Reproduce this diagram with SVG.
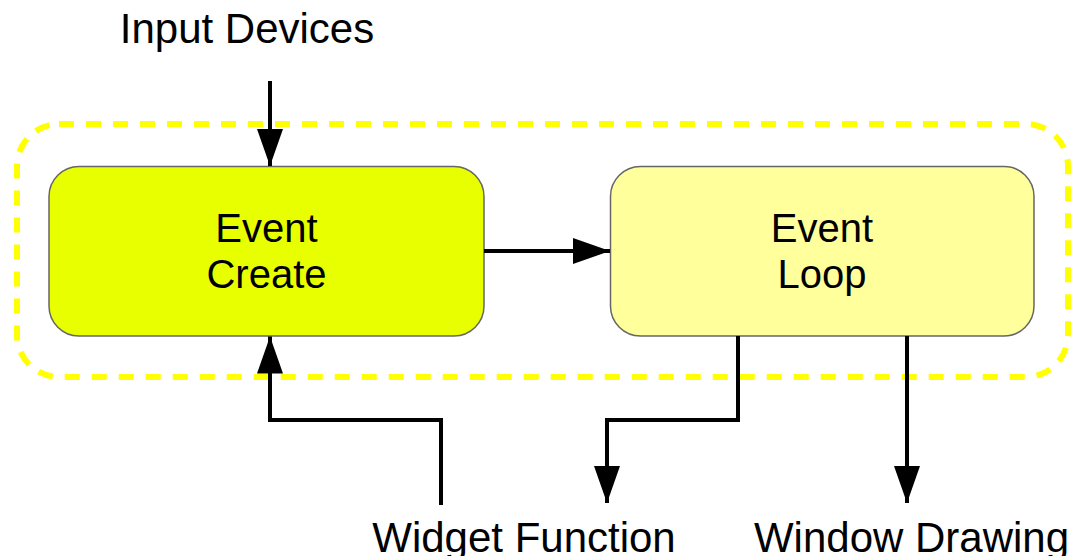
<svg xmlns="http://www.w3.org/2000/svg" width="1072" height="556" viewBox="0 0 1072 556">
  <style>
    .label { font-family: "Liberation Sans", Arial, sans-serif; font-size: 42px; fill: #000; text-anchor: middle; }
    .node-text { font-family: "Liberation Sans", Arial, sans-serif; font-size: 40px; fill: #000; text-anchor: middle; }
    .box { stroke: #666; stroke-width: 1.5; }
    .wire { fill: none; stroke: #000; stroke-width: 4; marker-end: url(#head); }
  </style>
  <defs>
    <marker id="head" markerUnits="userSpaceOnUse" markerWidth="38" markerHeight="26" refX="37" refY="13" orient="auto">
      <polygon points="0,0 37,13 0,26" fill="#000"/>
    </marker>
  </defs>
  <rect width="1072" height="556" fill="#fff"/>

  <!-- dashed system boundary -->
  <rect id="boundary" x="17" y="124" width="1051" height="253" rx="42" ry="42" fill="none" stroke="#ffff00" stroke-width="6" stroke-dasharray="15 12"/>

  <g id="event-create">
    <rect class="box" x="49" y="166.5" width="435" height="169.5" rx="30" ry="30" fill="#e8ff00"/>
    <text class="node-text" x="266.5" y="242">Event</text>
    <text class="node-text" x="266.5" y="288">Create</text>
  </g>

  <g id="event-loop">
    <rect class="box" x="610.5" y="166.5" width="423.5" height="169.5" rx="30" ry="30" fill="#ffff9c"/>
    <text class="node-text" x="822" y="242">Event</text>
    <text class="node-text" x="822" y="288">Loop</text>
  </g>

  <g id="input-devices">
    <text class="label" x="247" y="43">Input Devices</text>
  </g>
  <g id="widget-function">
    <text class="label" x="524" y="552">Widget Function</text>
  </g>
  <g id="window-drawing">
    <text class="label" x="911.5" y="552">Window Drawing</text>
  </g>

  <g id="connectors">
    <path class="wire" d="M270,81 V166"/>
    <path class="wire" d="M484,251 H610"/>
    <path class="wire" d="M441,505 V420 H270 V336.5"/>
    <path class="wire" d="M738,336 V420 H607 V503"/>
    <path class="wire" d="M907,336 V503"/>
  </g>
</svg>
